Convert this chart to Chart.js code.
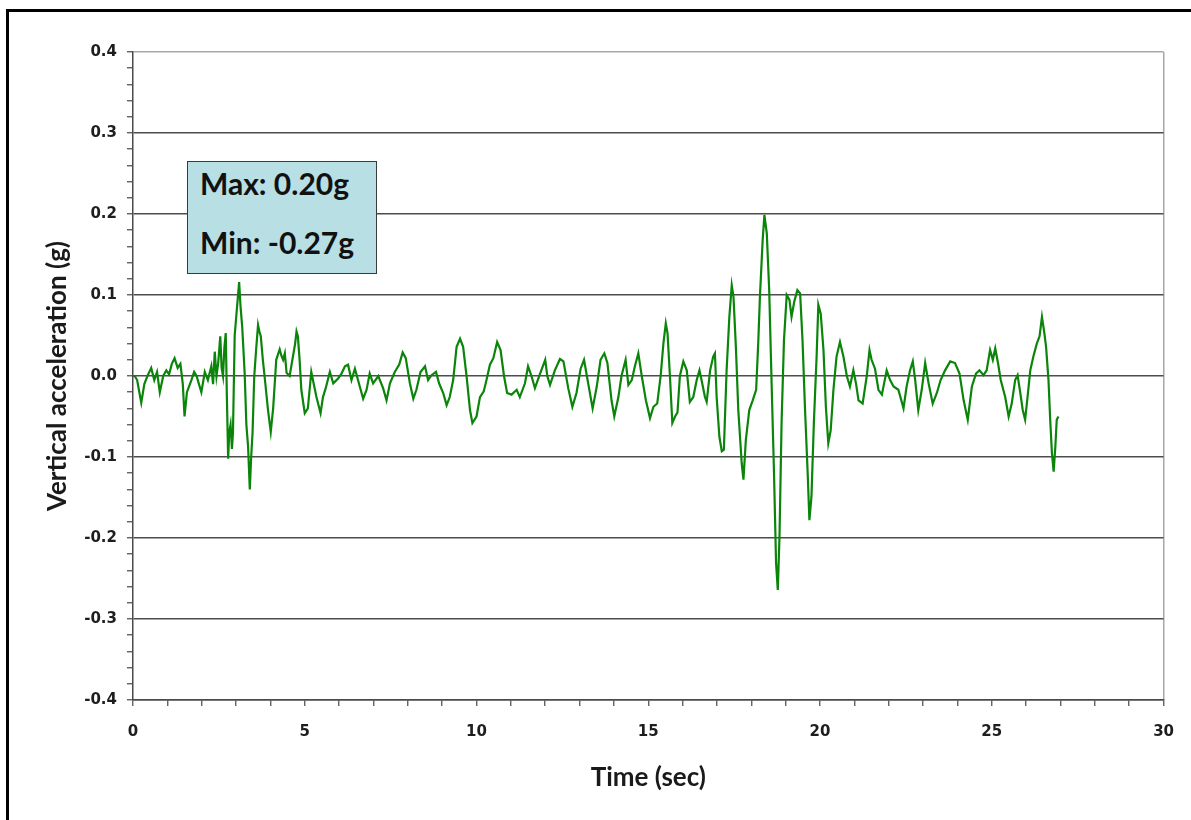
<!DOCTYPE html>
<html>
<head>
<meta charset="utf-8">
<script src="https://cdn.jsdelivr.net/npm/chart.js@4.4.1/dist/chart.umd.min.js"></script>
<style>
  html, body { margin: 0; padding: 0; background: #fff; overflow: hidden; }
  #wrap { position: relative; width: 1191px; height: 820px; overflow: hidden; background: #fff; }
  #frame { position: absolute; left: 6px; top: 9px; width: 1300px; height: 900px;
           border-left: 3px solid #000; border-top: 3px solid #000; pointer-events: none; }
  #note { position: absolute; left: 187px; top: 161px; width: 190px; height: 113px; box-sizing: border-box;
          background: #b7dfe4; border: 1px solid #3a3a3a; font-family: Lato, "Open Sans", sans-serif;
          font-weight: bold; font-size: 30px; color: #111; }
  #note div { position: absolute; left: 12px; line-height: 34px; white-space: nowrap; }
</style>
</head>
<body>
<div id="wrap">
  <canvas id="c" width="1191" height="820"></canvas>
  <div id="frame"></div>
  <div id="note"><div style="top:4px">Max: 0.20g</div><div style="top:63px">Min: -0.27g</div></div>
</div>
<script>
const timeSec = [
  0.00,0.05,0.12,0.24,0.33,0.42,0.53,0.62,0.70,0.78,0.88,0.97,1.05,1.13,1.21,1.30,1.38,1.45,1.50,1.57,
  1.70,1.78,1.85,1.92,1.99,2.09,2.18,2.28,2.33,2.38,2.43,2.48,2.54,2.58,2.62,2.66,2.70,2.73,2.77,2.80,
  2.84,2.88,2.91,2.96,3.03,3.09,3.13,3.18,3.25,3.30,3.35,3.40,3.44,3.48,3.53,3.59,3.64,3.68,3.72,3.78,
  3.83,3.93,4.01,4.08,4.17,4.27,4.32,4.37,4.42,4.47,4.56,4.64,4.72,4.76,4.80,4.85,4.90,5.00,5.09,5.19,
  5.34,5.46,5.53,5.61,5.73,5.83,5.97,6.07,6.17,6.26,6.36,6.46,6.55,6.70,6.80,6.89,6.99,7.14,7.28,7.38,
  7.48,7.62,7.75,7.85,7.94,8.06,8.16,8.25,8.37,8.50,8.59,8.69,8.82,8.91,9.03,9.13,9.22,9.32,9.42,9.52,
  9.61,9.71,9.81,9.88,10.00,10.10,10.21,10.29,10.39,
  10.49,10.60,10.70,10.80,10.89,11.02,11.17,11.26,11.41,11.50,11.60,11.70,11.85,12.00,12.06,12.14,12.28,12.43,12.53,12.67,
  12.79,12.91,13.03,13.13,13.25,13.38,13.50,13.61,13.72,13.81,13.93,14.01,14.13,14.22,14.34,14.42,14.52,14.61,14.71,14.81,
  14.93,15.05,15.15,15.26,15.36,15.44,15.51,15.56,15.63,15.70,
  15.78,15.85,15.92,16.02,16.12,16.21,16.31,16.41,16.49,16.55,16.65,16.70,16.80,16.89,16.94,16.99,17.07,17.14,17.20,17.28,
  17.36,17.43,17.48,17.55,17.62,17.72,17.77,17.84,17.94,18.04,18.14,18.20,18.25,18.33,18.38,18.45,18.52,18.59,18.66,18.72,
  18.77,18.82,18.88,18.95,19.03,19.11,19.17,19.25,19.34,19.42,19.49,19.56,19.64,19.69,19.75,19.82,19.90,19.95,20.02,20.10,
  20.17,20.24,20.31,20.39,20.48,20.58,20.68,20.78,20.87,
  20.97,21.05,21.12,21.24,21.36,21.44,21.50,21.60,21.70,21.80,21.94,22.04,22.14,22.28,22.43,22.52,22.62,22.70,22.77,22.86,
  22.96,23.06,23.16,23.28,23.40,23.51,23.64,23.79,23.93,24.06,24.18,24.30,24.42,24.54,24.64,24.76,24.85,24.95,25.03,25.10,
  25.18,25.26,25.39,25.49,25.58,25.68,25.75,25.83,25.90,25.97,26.04,26.12,26.21,26.31,26.39,26.46,26.53,26.58,26.65,26.70,
  26.75,26.80,26.85,26.89,26.94
];
const accelG = [
  0.000,0.000,-0.005,-0.033,-0.010,0.000,0.010,-0.005,0.005,-0.020,0.000,0.007,0.002,0.015,0.022,0.010,0.015,-0.010,-0.050,-0.020,
  -0.005,0.005,0.000,-0.010,-0.020,0.005,-0.005,0.012,-0.010,0.030,0.000,0.016,0.049,0.010,0.000,0.035,0.053,-0.020,-0.102,-0.070,
  -0.060,-0.090,-0.070,0.050,0.086,0.116,0.086,0.060,0.004,-0.060,-0.087,-0.140,-0.100,-0.070,0.000,0.036,0.063,0.055,0.049,0.020,
  0.000,-0.042,-0.069,-0.040,0.020,0.033,0.025,0.020,0.028,0.004,0.000,0.020,0.040,0.055,0.049,0.020,-0.017,-0.046,-0.040,0.005,
  -0.026,-0.046,-0.026,-0.015,0.005,-0.009,-0.003,0.003,0.012,0.014,-0.005,0.009,-0.005,-0.028,-0.017,0.003,-0.009,0.000,-0.015,-0.030,
  -0.009,0.005,0.014,0.029,0.022,-0.009,-0.028,-0.017,0.005,0.012,-0.005,0.001,0.005,-0.009,-0.021,-0.036,-0.026,-0.005,0.036,0.046,
  0.036,0.000,-0.042,-0.058,-0.050,-0.026,-0.019,-0.005,0.014,
  0.022,0.042,0.032,0.000,-0.021,-0.023,-0.017,-0.026,-0.009,0.012,0.000,-0.015,0.003,0.020,0.000,-0.011,0.007,0.021,0.018,-0.015,
  -0.038,-0.021,0.009,0.020,-0.009,-0.040,-0.013,0.020,0.028,0.016,-0.030,-0.050,-0.026,0.000,0.020,-0.011,-0.005,0.012,0.028,0.000,
  -0.030,-0.052,-0.038,-0.034,0.000,0.040,0.065,0.053,0.000,-0.058,
  -0.050,-0.045,0.000,0.018,0.007,-0.032,-0.026,-0.005,0.007,-0.005,-0.026,-0.032,0.007,0.024,0.028,-0.026,-0.075,-0.093,-0.091,0.007,
  0.073,0.112,0.098,0.036,-0.042,-0.108,-0.128,-0.079,-0.042,-0.030,-0.017,0.040,0.098,0.168,0.199,0.176,0.106,-0.009,-0.120,-0.231,
  -0.264,-0.198,-0.058,0.044,0.100,0.094,0.073,0.092,0.106,0.102,0.044,-0.038,-0.120,-0.178,-0.149,-0.058,0.024,0.088,0.077,0.032,
  -0.038,-0.083,-0.067,-0.017,0.024,0.042,0.024,0.000,-0.013,
  0.007,-0.010,-0.030,-0.034,0.000,0.032,0.020,0.009,-0.017,-0.023,0.007,-0.005,-0.013,-0.017,-0.040,-0.013,0.007,0.018,-0.005,-0.042,
  -0.017,0.016,-0.009,-0.034,-0.021,-0.005,0.007,0.018,0.016,0.003,-0.030,-0.054,-0.013,0.003,0.007,0.001,0.007,0.032,0.020,0.034,
  0.016,-0.005,-0.026,-0.050,-0.034,-0.005,0.001,-0.021,-0.042,-0.054,-0.026,0.007,0.024,0.040,0.049,0.073,0.053,0.036,-0.005,-0.054,
  -0.095,-0.118,-0.087,-0.054,-0.050
];
const xTickLabels = [0, 5, 10, 15, 20, 25, 30];
const yTickLabels = [-0.4, -0.3, -0.2, -0.1, 0.0, 0.1, 0.2, 0.3, 0.4];
const xTitle = 'Time (sec)';
const yTitle = 'Vertical acceleration (g)';

const isMajorY = v => yTickLabels.some(t => Math.abs(t - v) < 1e-6);
const isMajorX = v => xTickLabels.some(t => Math.abs(t - v) < 1e-6);
const tickFont = { family: '"DejaVu Sans", sans-serif', size: 15, weight: 'bold' };
const titleFont = { family: 'Lato, "Open Sans", sans-serif', size: 26, weight: 'bold' };

new Chart(document.getElementById('c'), {
  type: 'line',
  data: {
    datasets: [{
      data: timeSec.map((t, i) => ({ x: t, y: accelG[i] })),
      borderColor: '#0a850a',
      borderWidth: 2.2,
      pointRadius: 0,
      tension: 0,
      fill: false
    }]
  },
  options: {
    responsive: false,
    animation: false,
    devicePixelRatio: 1,
    layout: { padding: { left: 0, right: 26, top: 52, bottom: 0 } },
    plugins: { legend: { display: false }, tooltip: { enabled: false } },
    scales: {
      x: {
        type: 'linear', min: 0, max: 30,
        afterFit: s => { s.height = 120; },
        ticks: {
          stepSize: 1, autoSkip: false, maxRotation: 0, padding: 17,
          color: '#1e1e1e', font: tickFont,
          callback: v => isMajorX(v) ? String(v) : ''
        },
        grid: {
          color: c => (c.tick && Math.abs(c.tick.value - 30) < 1e-6) ? '#a8a8a8' : 'rgba(0,0,0,0)',
          tickColor: '#555', tickLength: 6, lineWidth: 1.5, tickWidth: 1.3
        },
        border: { color: '#4a4a4a', width: 1.5 },
        title: { display: true, text: xTitle, color: '#1a1a1a', font: titleFont, padding: { top: 0, bottom: 27 } }
      },
      y: {
        type: 'linear', min: -0.4, max: 0.4,
        afterFit: s => { s.width = 133; },
        ticks: {
          stepSize: 0.02, autoSkip: false, padding: 10,
          color: '#1e1e1e', font: tickFont,
          callback: v => isMajorY(v) ? (Math.round(v * 10) / 10).toFixed(1) : ''
        },
        grid: {
          color: c => {
            if (!c.tick) return 'rgba(0,0,0,0)';
            const v = c.tick.value;
            if (!isMajorY(v)) return 'rgba(0,0,0,0)';
            return Math.abs(v - 0.4) < 1e-6 ? '#a8a8a8' : '#4d4d4d';
          },
          tickColor: '#555', tickLength: 6, lineWidth: 1.5, tickWidth: 1.3
        },
        border: { color: '#4a4a4a', width: 1.5 },
        title: { display: true, text: yTitle, color: '#1a1a1a', font: titleFont, padding: { top: 42, bottom: 0 } }
      }
    }
  }
});
</script>
</body>
</html>
